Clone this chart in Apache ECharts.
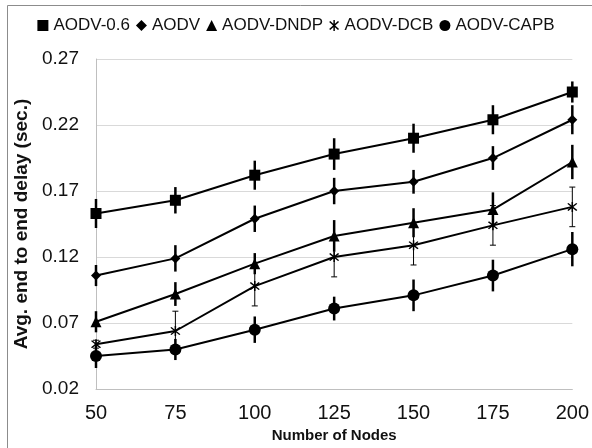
<!DOCTYPE html>
<html><head><meta charset="utf-8">
<script src="https://cdn.jsdelivr.net/npm/echarts@6/dist/echarts.min.js"></script>
<style>html,body{margin:0;padding:0;background:#fff}#c{width:592px;height:448px}</style>
</head><body><div id="c"></div>
<script>
const nodes = ['50','75','100','125','150','175','200'];
const yTicks = [0.02,0.07,0.12,0.17,0.22,0.27];
const seriesNames = ['AODV-0.6','AODV','AODV-DNDP','AODV-DCB','AODV-CAPB'];
const aodv06 = [0.153,0.163,0.182,0.198,0.210,0.224,0.245];
const aodv06Err = [0.011,0.010,0.011,0.012,0.011,0.011,0.008];
const aodv = [0.106,0.119,0.149,0.170,0.177,0.195,0.224];
const aodvErr = [0.008,0.010,0.010,0.010,0.009,0.009,0.011];
const dndp = [0.071,0.092,0.115,0.136,0.146,0.156,0.192];
const dndpErr = [0.008,0.009,0.008,0.012,0.011,0.013,0.013];
const dcb = [0.054,0.064,0.098,0.120,0.129,0.144,0.158];
const dcbErr = [0.003,0.015,0.015,0.015,0.015,0.015,0.015];
const capb = [0.045,0.050,0.065,0.081,0.091,0.106,0.126];
const capbErr = [0.009,0.008,0.010,0.009,0.012,0.012,0.013];

const starPath = 'path://M5.2,0L6.8,0L6.8,12L5.2,12Z M0.6,2.2L1.8,1.2L11.4,9.8L10.2,10.8Z M10.2,1.2L11.4,2.2L1.8,10.8L0.6,9.8Z';
const values = [aodv06, aodv, dndp, dcb, capb];
const errs = [aodv06Err, aodvErr, dndpErr, dcbErr, capbErr];
const symbols = ['rect','diamond','triangle',starPath,'circle'];
const sizes = [11,10,11,10,12];
const errWidth = [2.5,2.5,2.5,1,2.5];
const capW = [0,0,0,3,0];

const series = [];
values.forEach((v, i) => {
  series.push({
    name: seriesNames[i], type: 'line', data: v,
    symbol: symbols[i], symbolSize: sizes[i],
    lineStyle: {color:'#000', width:2},
    itemStyle: {color:'#000', borderWidth:0},
    z: 3, animation: false
  });
  series.push({
    type: 'custom', name: seriesNames[i] + '-err',
    data: v.map((y, k) => [k, y - errs[i][k], y + errs[i][k]]),
    renderItem: function (params, api) {
      const lo = api.coord([api.value(0), api.value(1)]);
      const hi = api.coord([api.value(0), api.value(2)]);
      const st = {stroke:'#000', lineWidth: errWidth[i]};
      const children = [{type:'line', shape:{x1:lo[0],y1:lo[1],x2:hi[0],y2:hi[1]}, style: st}];
      if (capW[i] > 0) {
        children.push({type:'line', shape:{x1:lo[0]-capW[i],y1:lo[1],x2:lo[0]+capW[i],y2:lo[1]}, style: st});
        children.push({type:'line', shape:{x1:hi[0]-capW[i],y1:hi[1],x2:hi[0]+capW[i],y2:hi[1]}, style: st});
      }
      return {type:'group', children: children};
    },
    z: 2, animation: false, silent: true
  });
});

const chart = echarts.init(document.getElementById('c'), null, {renderer:'canvas'});
chart.setOption({
  animation: false,
  backgroundColor: '#fff',
  textStyle: {fontFamily: 'Liberation Sans, Arial, sans-serif'},
  graphic: [{type:'rect', shape:{x:7.5,y:5.5,width:700,height:600}, style:{fill:'none', stroke:'#8c8c8c', lineWidth:1}, silent:true}],
  legend: {
    top: 12, left: 'center', itemGap: 6, itemWidth: 11, itemHeight: 11,
    textStyle: {fontSize: 17, color: '#111', fontFamily: 'Liberation Sans, Arial, sans-serif'},
    data: seriesNames.map((n, i) => ({name: n, icon: symbols[i]})),
    itemStyle: {color:'#000'}
  },
  grid: {left: 96, right: 17, top: 59, bottom: 58},
  xAxis: {
    type: 'category', data: nodes, boundaryGap: false,
    name: 'Number of Nodes', nameLocation: 'middle', nameGap: 37,
    nameTextStyle: {fontSize: 15, fontWeight: 'bold', color: '#111'},
    axisLine: {lineStyle: {color: '#bfbfbf', width: 1}},
    axisTick: {show: false},
    axisLabel: {fontSize: 20, color: '#111', margin: 14}
  },
  yAxis: {
    type: 'value', min: yTicks[0], max: yTicks[yTicks.length-1], interval: 0.05,
    name: 'Avg. end to end delay (sec.)', nameLocation: 'middle', nameGap: 61,
    nameTextStyle: {fontSize: 19, fontWeight: 'bold', color: '#111'},
    axisLine: {show: true, lineStyle: {color: '#bfbfbf', width: 1}},
    axisTick: {show: false},
    splitLine: {lineStyle: {color: '#d9d9d9', width: 1}},
    axisLabel: {fontSize: 19, color: '#111', margin: 17, formatter: v => v.toFixed(2)}
  },
  series: series
});
</script></body></html>
